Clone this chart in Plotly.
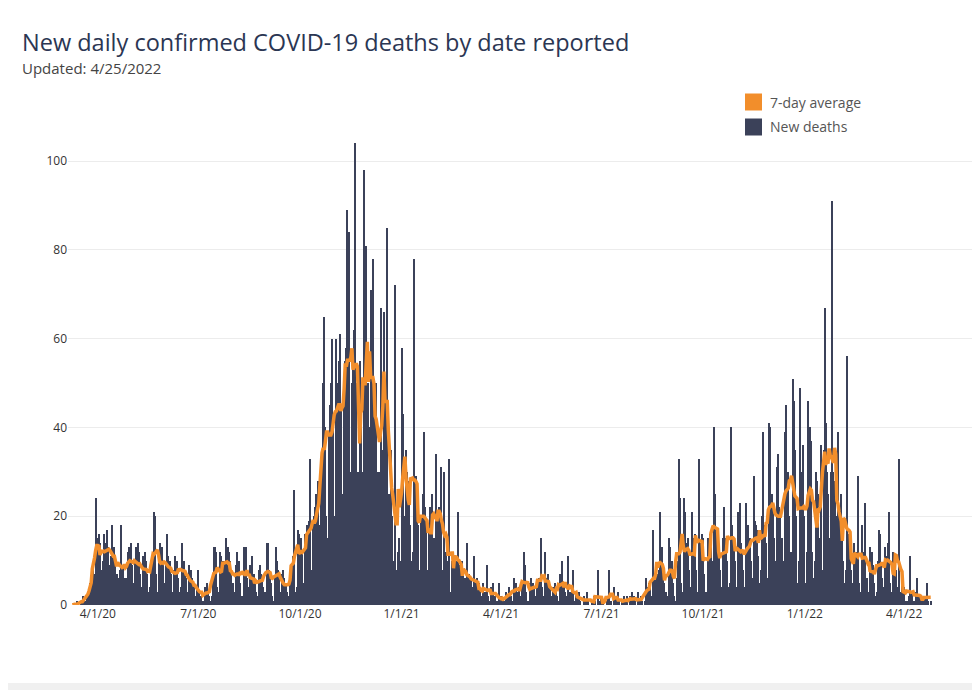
import pandas as pd
import plotly.graph_objects as go

# ---------------- data ----------------
start_date = "2020-03-09"

new_deaths = [
    0, 0, 0, 0, 1, 0, 0,
    0, 1, 1, 2, 1, 0, 2,
    2, 3, 5, 4, 6, 8, 7,
    24, 10, 15, 16, 14, 8, 6,
    10, 16, 14, 17, 13, 9, 6,
    11, 18, 12, 13, 10, 7, 6,
    5, 8, 18, 9, 9, 6, 4,
    6, 12, 13, 11, 14, 9, 5,
    5, 10, 13, 14, 12, 7, 4,
    4, 11, 9, 12, 10, 7, 3,
    4, 8, 10, 11, 21, 20, 7,
    3, 10, 14, 12, 13, 9, 5,
    4, 9, 16, 11, 10, 7, 3,
    3, 8, 11, 9, 10, 6, 3,
    4, 14, 9, 10, 8, 6, 3,
    3, 9, 8, 6, 5, 4, 2,
    2, 4, 8, 3, 2, 1, 1,
    1, 4, 3, 5, 3, 2, 1,
    2, 5, 13, 13, 12, 4, 2,
    3, 12, 11, 10, 10, 5, 15,
    3, 13, 12, 10, 8, 5, 3,
    2, 9, 12, 8, 10, 5, 2,
    2, 13, 8, 13, 6, 4, 2,
    9, 4, 11, 7, 5, 3, 2,
    2, 8, 9, 7, 6, 4, 3,
    2, 14, 14, 8, 7, 5, 2,
    1, 6, 13, 10, 8, 6, 3,
    2, 7, 8, 6, 5, 3, 1,
    2, 6, 9, 7, 11, 26, 3,
    4, 17, 16, 14, 15, 12, 5,
    5, 16, 18, 15, 19, 33, 8,
    8, 18, 20, 22, 25, 28, 12,
    18, 25, 30, 50, 65, 40, 20,
    15, 38, 45, 50, 60, 40, 20,
    20, 60, 50, 55, 61, 45, 25,
    20, 50, 55, 58, 89, 84, 20,
    30, 50, 55, 62, 104, 50, 25,
    30, 55, 50, 15, 30, 98, 30,
    81, 45, 50, 40, 71, 35, 78,
    40, 45, 50, 30, 20, 30, 67,
    25, 35, 66, 40, 50, 85, 20,
    25, 35, 20, 10, 3, 72, 8,
    8, 12, 15, 10, 58, 43, 20,
    20, 35, 30, 28, 25, 18, 10,
    12, 78, 28, 29, 22, 18, 8,
    8, 20, 25, 39, 22, 18, 8,
    6, 18, 22, 20, 25, 15, 8,
    34, 20, 18, 22, 15, 31, 8,
    30, 10, 12, 9, 10, 33, 3,
    3, 10, 12, 11, 10, 9, 21,
    3, 9, 8, 10, 7, 6, 3,
    14, 6, 7, 5, 6, 4, 2,
    11, 5, 6, 4, 5, 3, 2,
    1, 5, 3, 3, 9, 2, 1,
    1, 4, 3, 5, 2, 2, 1,
    0, 5, 1, 2, 1, 1, 0,
    1, 3, 2, 4, 3, 2, 1,
    1, 6, 4, 5, 3, 4, 2,
    1, 5, 4, 12, 9, 3, 1,
    1, 5, 6, 4, 5, 4, 2,
    2, 5, 6, 5, 15, 4, 2,
    2, 12, 5, 6, 7, 4, 2,
    1, 4, 3, 5, 4, 2, 1,
    7, 3, 10, 4, 5, 3, 2,
    1, 11, 3, 3, 2, 8, 1,
    1, 3, 2, 2, 3, 1, 0,
    0, 2, 1, 1, 3, 1, 0,
    0, 1, 1, 2, 1, 0, 0,
    8, 1, 0, 2, 1, 0, 0,
    0, 1, 2, 8, 1, 1, 0,
    4, 1, 2, 1, 3, 1, 0,
    0, 1, 2, 1, 1, 2, 0,
    0, 2, 1, 3, 2, 1, 0,
    0, 3, 1, 1, 2, 1, 0,
    1, 6, 3, 4, 5, 4, 2,
    1, 17, 6, 5, 7, 4, 8,
    21, 8, 13, 6, 5, 3, 2,
    2, 15, 13, 8, 10, 5, 2,
    1, 6, 10, 33, 24, 5, 2,
    3, 24, 21, 14, 15, 8, 4,
    3, 21, 15, 14, 16, 8, 3,
    33, 12, 14, 16, 15, 7, 3,
    3, 15, 14, 16, 14, 10, 4,
    40, 25, 16, 14, 13, 8, 4,
    4, 15, 22, 15, 13, 10, 4,
    5, 40, 18, 15, 14, 10, 4,
    3, 21, 23, 14, 12, 8, 3,
    4, 23, 16, 18, 15, 10, 5,
    6, 29, 19, 18, 17, 11, 5,
    8, 20, 39, 5, 18, 14, 6,
    6, 41, 40, 25, 22, 15, 8,
    10, 31, 34, 22, 20, 15, 8,
    10, 39, 45, 28, 30, 20, 10,
    12, 51, 46, 35, 20, 5, 3,
    10, 49, 30, 36, 20, 5, 3,
    12, 46, 30, 40, 37, 12, 6,
    10, 30, 28, 25, 15, 8, 36,
    8, 35, 67, 41, 30, 25, 15,
    15, 30, 91, 30, 28, 20, 10,
    39, 20, 18, 25, 15, 10, 5,
    8, 56, 16, 14, 12, 8, 4,
    5, 14, 12, 10, 29, 5, 3,
    3, 18, 12, 10, 23, 6, 3,
    3, 13, 8, 12, 9, 5, 2,
    3, 10, 17, 16, 9, 6, 2,
    4, 13, 11, 14, 21, 5, 3,
    3, 12, 9, 10, 8, 4, 33,
    2, 3, 8, 2, 4, 1, 1,
    1, 2, 11, 2, 3, 1, 0,
    1, 3, 6, 2, 2, 1, 0,
    1, 2, 1, 2, 5, 1, 0,
    1,
]

tick_dates = ["2020-04-01", "2020-07-01", "2020-10-01", "2021-01-01", "2021-04-01",
              "2021-07-01", "2021-10-01", "2022-01-01", "2022-04-01"]
tick_labels = ["4/1/20", "7/1/20", "10/1/20", "1/1/21", "4/1/21",
               "7/1/21", "10/1/21", "1/1/22", "4/1/22"]
y_ticks = [0, 20, 40, 60, 80, 100]
legend_labels = ["7-day average", "New deaths"]

# ---------------- figure ----------------
dates = pd.date_range(start_date, periods=len(new_deaths), freq="D")
avg7 = pd.Series(new_deaths, dtype=float).rolling(7, center=True, min_periods=1).mean()

BAR = "#3b4159"
ORANGE = "#f28e2b"
FONT = "Open Sans"

W, H = 972, 682
L, R, T, B = 60, 4, 131, 85
PW, PH = W - L - R, H - T - B


def px(x):
    return (x - L) / PW


def py(y):
    return (H - B - y) / PH


fig = go.Figure()
fig.add_trace(go.Bar(x=dates, y=new_deaths, marker=dict(color=BAR, line=dict(width=0)),
                     name=legend_labels[1], showlegend=False))
fig.add_trace(go.Scatter(x=dates, y=avg7, mode="lines", line=dict(color=ORANGE, width=3.5),
                         name=legend_labels[0], showlegend=False))

legend_shapes = []
legend_notes = []
for i, (lab, col) in enumerate(zip(legend_labels, [ORANGE, BAR])):
    cy = 94 + 25 * i
    legend_shapes.append(dict(type="rect", xref="paper", yref="paper",
                              x0=px(737), x1=px(754), y0=py(cy + 8.5), y1=py(cy - 8.5),
                              fillcolor=col, line=dict(width=0)))
    legend_notes.append(dict(text=lab, xref="paper", yref="paper", x=px(760), y=py(cy),
                             xanchor="left", yanchor="middle", showarrow=False,
                             font=dict(size=14, color="#555555", family=FONT)))

fig.update_layout(
    width=W, height=H,
    margin=dict(l=L, r=R, t=T, b=B),
    paper_bgcolor="white", plot_bgcolor="white",
    font=dict(family=FONT, color="#333333", size=12),
    bargap=0,
    showlegend=False,
    xaxis=dict(type="date", range=["2020-03-05", "2022-06-05"],
               tickvals=tick_dates, ticktext=tick_labels,
               showgrid=False, zeroline=False, showline=False,
               ticks="", tickfont=dict(size=12, color="#333333")),
    yaxis=dict(range=[0, 105], tickvals=y_ticks, showgrid=True,
               gridcolor="#ececec", gridwidth=1, zeroline=False, showline=False,
               ticks="", tickfont=dict(size=12, color="#333333")),
    annotations=[
        dict(text="New daily confirmed COVID-19 deaths by date reported",
             xref="paper", yref="paper", x=px(12), y=py(34),
             xanchor="left", yanchor="middle", showarrow=False,
             font=dict(size=23.5, color="#2b3653", family=FONT)),
        dict(text="Updated: 4/25/2022",
             xref="paper", yref="paper", x=px(12), y=py(60),
             xanchor="left", yanchor="middle", showarrow=False,
             font=dict(size=15, color="#444444", family=FONT)),
    ] + legend_notes,
    shapes=[
        dict(type="rect", xref="paper", yref="paper",
             x0=px(0), x1=px(W), y0=py(H), y1=py(H - 7),
             fillcolor="#f0f0f0", line=dict(width=0), layer="below"),
    ] + legend_shapes,
)

fig.write_html("out.html")
